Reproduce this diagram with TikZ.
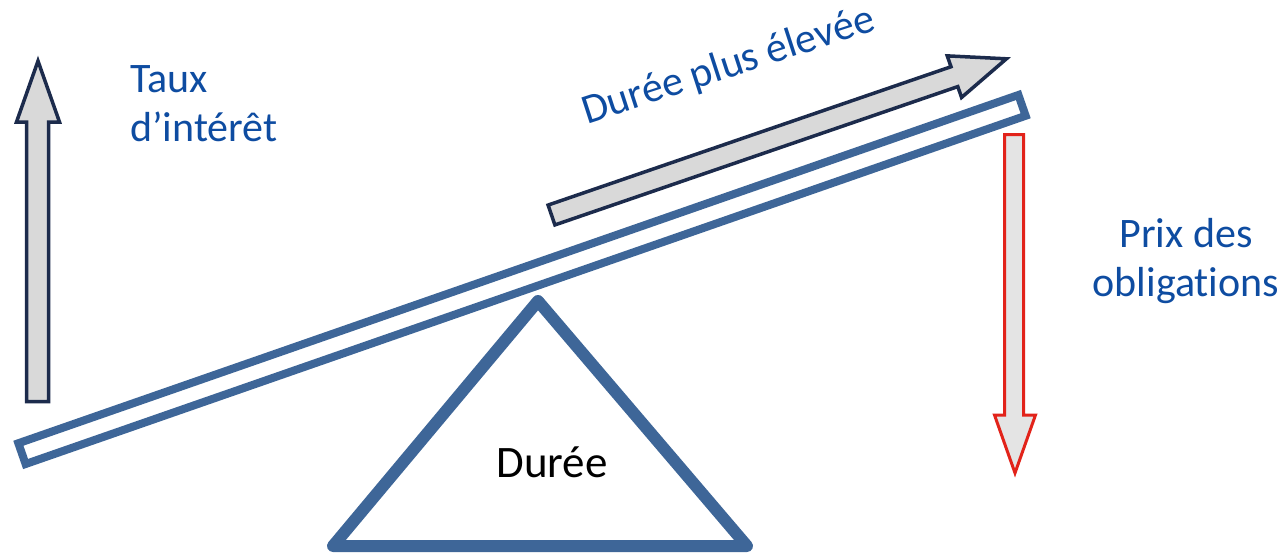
\documentclass[tikz,border=0pt]{standalone}
\usepackage{fontspec}
\setmainfont{Carlito}[Ligatures={NoCommon},RawFeature={-calt}]
\usepackage{xcolor}
\definecolor{steelblue}{HTML}{3E6698}
\definecolor{navyline}{HTML}{1C2B4C}
\definecolor{labelblue}{HTML}{0E4CA1}
\definecolor{arrowred}{HTML}{E2231A}
\definecolor{arrowgray}{HTML}{D9D9D9}

\begin{document}
\begin{tikzpicture}[x=1pt,y=-1pt,
  bluelabel/.style={text=labelblue,font=\fontsize{42}{49}\selectfont,inner sep=0pt}]
\useasboundingbox (0,0) rectangle (1286,555);
% fulcrum
\draw[steelblue,line width=12pt,line join=round] (538,301) -- (747,546) -- (333,546) -- cycle;
\node[font=\fontsize{45}{54}\selectfont,anchor=base,inner sep=0pt] (fulcrum) at (552,477) {Durée};

% plank (tilted 19.2 deg round its centre)
\begin{scope}[shift={(522,279.5)},rotate=19.2]
\filldraw[draw=steelblue,fill=white,line width=8pt] (-529.5,-11) rectangle (529.5,11);
\end{scope}

% interest rate goes up
\filldraw[draw=navyline,fill=arrowgray,line width=3.5pt] (26.5,401.5) -- (26.5,122) -- (16.5,122) -- (38,61) -- (59.5,122) -- (48.5,122) -- (48.5,401.5) -- cycle;
\node[bluelabel,anchor=north west,align=left] (rate) at (130,65) {Taux\\d’intérêt};

% bond price goes down
\filldraw[draw=arrowred,fill=arrowgray!70,line width=3pt] (1004.5,134.5) -- (1023.5,134.5) -- (1023.5,415) -- (1035.5,415) -- (1015,473) -- (994.5,415) -- (1004.5,415) -- cycle;
\node[bluelabel,anchor=north,align=center] (price) at (1186,218) {Prix des\\obligations};

% longer duration along the plank
\begin{scope}[shift={(551.5,215)},rotate=18.95]
\filldraw[draw=navyline,fill=arrowgray,line width=3.5pt] (0,-10.5) -- (426,-10.5) -- (426,-22) -- (481,0) -- (426,22) -- (426,10.5) -- (0,10.5) -- cycle;
\end{scope}
\node[bluelabel,rotate=18,anchor=base] (longer) at (732,77) {Durée plus élevée};
\end{tikzpicture}
\end{document}
